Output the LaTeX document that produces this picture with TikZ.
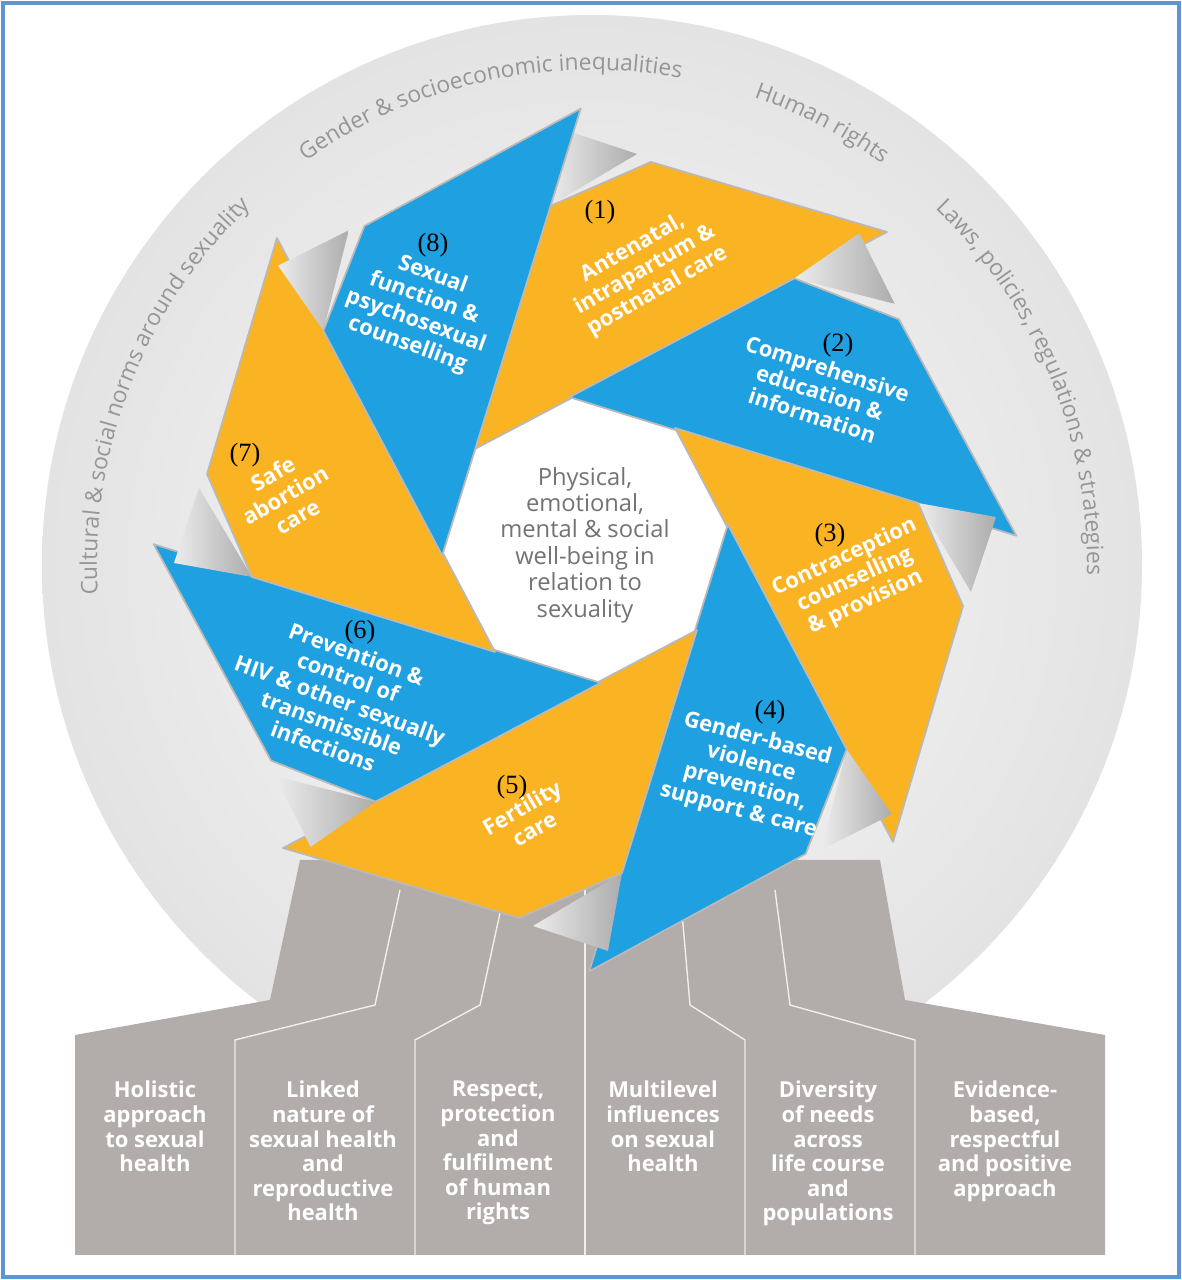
\documentclass[tikz,border=0pt]{standalone}
\usepackage{fontspec}
\setmainfont{Open Sans}
\newfontfamily\numfont{Liberation Serif}
\usetikzlibrary{decorations.text}
\definecolor{bladeyellow}{RGB}{250,180,35}
\definecolor{bladeblue}{RGB}{30,160,225}
\definecolor{plinth}{RGB}{178,172,170}
\definecolor{framecol}{RGB}{95,150,210}
\definecolor{ringtext}{RGB}{150,150,150}
\newcommand{\ringfont}{\fontsize{13}{15}\selectfont\color{ringtext}}

\begin{document}
\begin{tikzpicture}[x=0.02cm, y=0.02cm, blade/.style={
  % The border
  draw=gray!55, line width=1pt,
  % The shape:
  line join=round},
  bladetext/.style={text=white, font=\fontsize{12.5}{14}\selectfont\bfseries, align=center},
  num/.style={font=\numfont\fontsize{15}{15}\selectfont},
  basetext/.style={text=white, font=\fontsize{12.5}{14}\selectfont\bfseries, align=center, anchor=north},
  fold/.style={left color=gray!15, right color=gray!65, draw=none},
  divider/.style={white!80!plinth, line width=0.8pt},
  ring/.style={decorate, decoration={text along path, text align=center}}]
  \useasboundingbox (0,0) rectangle (1182,1280);
  \fill[white] (0,0) rectangle (1182,1280);

  % the ring and the plinth
  \shade[inner color=gray!4, outer color=gray!22] (592,715) circle[radius=550];
  \fill[plinth] (75,25) -- (75,245) -- (270,280) -- (300,420) -- (880,420)
    -- (905,280) -- (1105,245) -- (1105,25) -- cycle;
  \draw[divider] (235,25) -- (235,240) -- (375,275) -- (400,390);
  \draw[divider] (415,25) -- (415,240) -- (480,275) -- (505,390);
  \draw[divider] (585,25) -- (585,390);
  \draw[divider] (745,25) -- (745,240) -- (690,275) -- (680,390);
  \draw[divider] (915,25) -- (915,240) -- (790,275) -- (775,390);

  \path[ring, decoration={text={|\ringfont|Gender {\&} socioeconomic inequalities}}]
    (592,715) ++(127:495) arc[start angle=127, end angle=78, radius=495];
  \path[ring, decoration={text={|\ringfont|Human rights}}]
    (592,715) ++(72:495) arc[start angle=72, end angle=53, radius=495];
  \path[ring, decoration={text={|\ringfont|Laws, policies, regulations {\&} strategies}}]
    (592,715) ++(47:495) arc[start angle=47, end angle=-2, radius=495];
  \path[ring, decoration={text={|\ringfont|Cultural {\&} social norms around sexuality}}]
    (592,715) ++(184:495) arc[start angle=184, end angle=133, radius=495];

  % the pinwheel
  \fill[white] (585,740) circle[radius=145];
  \foreach \i in {0,...,7} {
    \pgfmathtruncatemacro{\isblue}{mod(\i,2)}
    \begin{scope}[shift={(585,740)}, rotate=-45*\i]
      \shade[fold] (-37,333) -- (-23,411) -- (52,386) -- cycle;
      \ifnum\isblue=1
        \filldraw[blade, fill=bladeblue] (-37,333) -- (66,378) -- (302,308) -- (-112,90) -- cycle;
      \else
        \filldraw[blade, fill=bladeyellow] (-37,333) -- (66,378) -- (302,308) -- (-112,90) -- cycle;
      \fi
    \end{scope}
  }

  \node[text=gray!90!black, font=\fontsize{13.5}{15}\selectfont, align=center] (centre) at (585,735)
    {Physical,\\ emotional,\\ mental \& social\\ well-being in\\ relation to\\ sexuality};

  \node[num] (n1) at (600,1068) {(1)};
  \node[bladetext, rotate=30] (t1) at (645,1010) {Antenatal,\\ intrapartum \&\\ postnatal care};
  \node[num] (n2) at (838,935) {(2)};
  \node[bladetext, rotate=-18] (t2) at (820,888) {Comprehensive\\ education \&\\ information};
  \node[num] (n3) at (830,745) {(3)};
  \node[bladetext, rotate=25] (t3) at (855,700) {Contraception\\ counselling\\ \& provision};
  \node[num] (n4) at (770,568) {(4)};
  \node[bladetext, rotate=-15] (t4) at (748,505) {Gender-based\\ violence\\ prevention,\\ support \& care};
  \node[num] (n5) at (512,493) {(5)};
  \node[bladetext, rotate=30] (t5) at (528,462) {Fertility\\ care};
  \node[num] (n6) at (360,648) {(6)};
  \node[bladetext, rotate=-20] (t6) at (340,580) {Prevention \&\\ control of\\ HIV \& other sexually\\ transmissible\\ infections};
  \node[num] (n7) at (245,825) {(7)};
  \node[bladetext, rotate=30] (t7) at (285,785) {Safe\\ abortion\\ care};
  \node[num] (n8) at (433,1035) {(8)};
  \node[bladetext, rotate=-20] (t8) at (420,970) {Sexual\\ function \&\\ psychosexual\\ counselling};

  % the six principles
  \node[basetext] (b1) at (155,205) {Holistic\\ approach\\ to sexual\\ health};
  \node[basetext] (b2) at (323,205) {Linked\\ nature of\\ sexual health\\ and\\ reproductive\\ health};
  \node[basetext] (b3) at (498,205) {Respect,\\ protection\\ and\\ fulfilment\\ of human\\ rights};
  \node[basetext] (b4) at (663,205) {Multilevel\\ influences\\ on sexual\\ health};
  \node[basetext] (b5) at (828,205) {Diversity\\ of needs\\ across\\ life course\\ and\\ populations};
  \node[basetext] (b6) at (1005,205) {Evidence-\\ based,\\ respectful\\ and positive\\ approach};

  \draw[framecol, line width=2pt] (3,3) rectangle (1179,1277);
\end{tikzpicture}
\end{document}
